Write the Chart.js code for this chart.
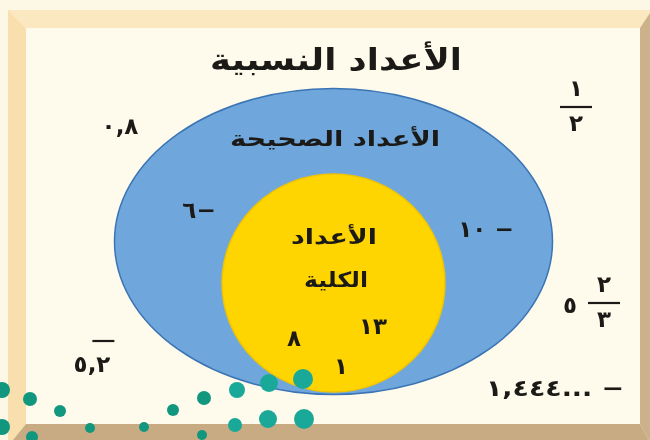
<!DOCTYPE html>
<html lang="ar">
<head>
<meta charset="utf-8">
<title>الأعداد النسبية</title>
<script src="https://cdn.jsdelivr.net/npm/chart.js@4.4.1/dist/chart.umd.min.js"></script>
<style>
  html, body { margin: 0; padding: 0; background: #fdf8e6; overflow: hidden; }
  #venn { display: block; }
</style>
</head>
<body>
<canvas id="venn" width="650" height="440"></canvas>
<script>
// Sets, from the outside in
var setNames = ['الأعداد النسبية', 'الأعداد الصحيحة', 'الأعداد الكلية'];

// Members that sit only in each region
var rationalMembers = ['٠,٨', '١/٢', '٥ ٢/٣', '٥,٢\u0305', '١,٤٤٤... −'];
var integerMembers = ['٦−', '١٠ −'];
var wholeMembers = ['٨', '١٣', '١'];

// ---- layout (canvas units, the axes run 0..650 and 0..440) ----
var rationalPos = [[120, 128], [576, 107], [604, 303], [92, 366], [555, 390]];
var integerPos = [[199, 212], [486, 231]];
var wholePos = [[294, 340], [373, 328], [341, 368]];

var integerRing = { cx: 333.5, cy: 241.5, rx: 219, ry: 153 };
var wholeRing = { cx: 333.5, cy: 283, rx: 111.5, ry: 109 };

// decorative dots in the lower left corner
var dotPoints = [
  { x: 2, y: 390, r: 8 }, { x: 30, y: 399, r: 7 }, { x: 60, y: 411, r: 6 },
  { x: 173, y: 410, r: 6 }, { x: 204, y: 398, r: 7 }, { x: 237, y: 390, r: 8 },
  { x: 269, y: 383, r: 9 }, { x: 303, y: 379, r: 10 },
  { x: 2, y: 427, r: 8 }, { x: 32, y: 437, r: 6 }, { x: 90, y: 428, r: 5 },
  { x: 144, y: 427, r: 5 }, { x: 202, y: 435, r: 5 }, { x: 235, y: 425, r: 7 },
  { x: 268, y: 419, r: 9 }, { x: 304, y: 419, r: 10 }
];

var ARABIC_FONT = '"DejaVu Sans", "Noto Sans", sans-serif';
var INK = '#1c1a17';

function toPoints(pos) {
  return pos.map(function(p) { return { x: p[0], y: p[1] }; });
}

// Draws centred text, stretched sideways to a given width
function fillWide(ctx, text, x, y, width) {
  var w = ctx.measureText(text).width;
  ctx.save();
  ctx.translate(x, y);
  ctx.scale(width / w, 1);
  ctx.fillText(text, 0, 0);
  ctx.restore();
}

// Beveled frame behind everything
var framePlugin = {
  id: 'frame',
  beforeDraw: function(chart) {
    var ctx = chart.ctx;
    var L = 8, T = 10, R = 652, B = 446;
    var iL = 26, iT = 28, iR = 640, iB = 424;
    ctx.save();
    ctx.fillStyle = '#fdf8e6';
    ctx.fillRect(0, 0, chart.width, chart.height);

    function quad(pts, color) {
      ctx.beginPath();
      ctx.moveTo(pts[0][0], pts[0][1]);
      for (var i = 1; i < pts.length; i++) ctx.lineTo(pts[i][0], pts[i][1]);
      ctx.closePath();
      ctx.fillStyle = color;
      ctx.fill();
    }
    quad([[L, T], [R, T], [iR, iT], [iL, iT]], '#fbe8c0');
    quad([[L, T], [iL, iT], [iL, iB], [L, B]], '#f9deae');
    quad([[R, T], [R, B], [iR, iB], [iR, iT]], '#cbb28a');
    quad([[L, B], [R, B], [iR, iB], [iL, iB]], '#c8ab82');

    ctx.fillStyle = '#fefaec';
    ctx.fillRect(iL, iT, iR - iL, iB - iT);
    ctx.restore();
  }
};

// The two nested sets, drawn through the scales
var ringsPlugin = {
  id: 'rings',
  beforeDatasetsDraw: function(chart) {
    var ctx = chart.ctx;
    var xs = chart.scales.x, ys = chart.scales.y;

    function ellipse(e, fill, stroke) {
      var cx = xs.getPixelForValue(e.cx), cy = ys.getPixelForValue(e.cy);
      var rx = Math.abs(xs.getPixelForValue(e.cx + e.rx) - cx);
      var ry = Math.abs(ys.getPixelForValue(e.cy + e.ry) - cy);
      ctx.beginPath();
      ctx.ellipse(cx, cy, rx, ry, 0, 0, Math.PI * 2);
      ctx.fillStyle = fill;
      ctx.fill();
      ctx.lineWidth = 1.5;
      ctx.strokeStyle = stroke;
      ctx.stroke();
    }
    ctx.save();
    ellipse(integerRing, '#6fa7dd', '#3a74b4');
    ellipse(wholeRing, '#fed500', '#f2c400');
    ctx.restore();

    // set names
    ctx.save();
    ctx.fillStyle = INK;
    ctx.textAlign = 'center';
    ctx.textBaseline = 'middle';
    ctx.direction = 'rtl';
    ctx.font = 'bold 30px ' + ARABIC_FONT;
    fillWide(ctx, setNames[0], xs.getPixelForValue(336), ys.getPixelForValue(62), 252);
    ctx.font = 'bold 21px ' + ARABIC_FONT;
    fillWide(ctx, setNames[1], xs.getPixelForValue(335), ys.getPixelForValue(141), 210);
    var inner = setNames[2].split(' ');
    fillWide(ctx, inner[0], xs.getPixelForValue(334), ys.getPixelForValue(239), 86);
    fillWide(ctx, inner[1], xs.getPixelForValue(336), ys.getPixelForValue(282), 64);
    ctx.restore();
  }
};

// Member labels, written at their (hidden) points
function drawMember(ctx, text, x, y) {
  ctx.save();
  ctx.fillStyle = INK;
  ctx.strokeStyle = INK;
  ctx.textBaseline = 'middle';
  ctx.textAlign = 'center';
  ctx.direction = 'ltr';
  ctx.font = 'bold 23px ' + ARABIC_FONT;

  var parts = text.split(' ');
  var frac = parts[parts.length - 1];
  if (frac.indexOf('/') >= 0) {
    var nd = frac.split('/');
    ctx.fillText(nd[0], x, y - 17);
    ctx.fillText(nd[1], x, y + 18);
    ctx.lineWidth = 2.2;
    ctx.beginPath();
    ctx.moveTo(x - 16, y);
    ctx.lineTo(x + 16, y);
    ctx.stroke();
    if (parts.length > 1) {
      ctx.fillText(parts[0], x - 34, y + 4);
    }
  } else if (text.indexOf('\u0305') >= 0) {
    var plain = text.replace('\u0305', '');
    ctx.fillText(plain, x, y);
    var w = ctx.measureText(plain).width;
    var last = ctx.measureText(plain.slice(-1)).width;
    var ox = x + w / 2 - last / 2;
    ctx.lineWidth = 2.2;
    ctx.beginPath();
    ctx.moveTo(ox - 11, y - 25);
    ctx.lineTo(ox + 11, y - 25);
    ctx.stroke();
  } else if (text.length > 6) {
    fillWide(ctx, text, x, y, 138);
  } else {
    ctx.fillText(text, x, y);
  }
  ctx.restore();
}

var labelsPlugin = {
  id: 'memberLabels',
  afterDatasetsDraw: function(chart) {
    chart.data.datasets.forEach(function(ds, i) {
      if (!ds.members) return;
      var meta = chart.getDatasetMeta(i);
      meta.data.forEach(function(pt, j) {
        drawMember(chart.ctx, ds.members[j], pt.x, pt.y);
      });
    });
  }
};

var ctx = document.getElementById('venn').getContext('2d');
new Chart(ctx, {
  data: {
    datasets: [
      {
        type: 'scatter',
        label: setNames[0],
        data: toPoints(rationalPos),
        members: rationalMembers,
        pointRadius: 0,
        order: 3
      },
      {
        type: 'scatter',
        label: setNames[1],
        data: toPoints(integerPos),
        members: integerMembers,
        pointRadius: 0,
        order: 3
      },
      {
        type: 'scatter',
        label: setNames[2],
        data: toPoints(wholePos),
        members: wholeMembers,
        pointRadius: 0,
        order: 3
      },
      {
        type: 'bubble',
        label: 'dots',
        data: dotPoints,
        backgroundColor: function(c) {
          var p = c.raw;
          return p && p.x > 220 ? '#1aa999' : '#12977f';
        },
        borderWidth: 0,
        order: 1
      }
    ]
  },
  options: {
    responsive: false,
    animation: false,
    events: [],
    layout: { padding: 0, autoPadding: false },
    scales: {
      x: { type: 'linear', min: 0, max: 650, display: false },
      y: { type: 'linear', min: 0, max: 440, reverse: true, display: false }
    },
    plugins: {
      legend: { display: false },
      tooltip: { enabled: false }
    }
  },
  plugins: [framePlugin, ringsPlugin, labelsPlugin]
});
</script>
</body>
</html>
